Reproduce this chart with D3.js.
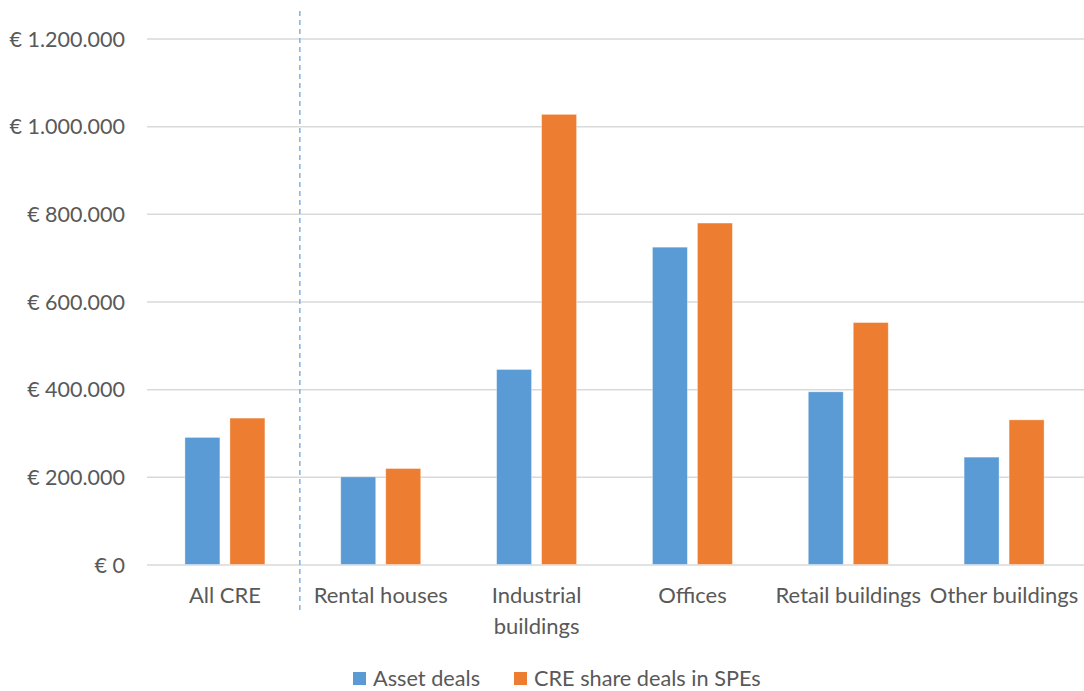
<!DOCTYPE html>
<html>
<head>
<meta charset="utf-8">
<script src="https://cdn.jsdelivr.net/npm/d3@7"></script>
<style>
  html, body { margin: 0; padding: 0; background: #fff; }
  svg { display: block; font-family: Lato, "Open Sans", sans-serif; }
</style>
</head>
<body>
<svg id="chart" width="1084" height="691"></svg>
<script>
// Average transaction value per deal type and building category
const categories = [["All CRE"], ["Rental houses"], ["Industrial", "buildings"], ["Offices"], ["Retail buildings"], ["Other buildings"]];
const seriesNames = ["Asset deals", "CRE share deals in SPEs"];
const assetDeals = [290000, 200000, 445000, 724000, 394000, 245000];
const shareDeals = [334000, 219000, 1027000, 779000, 552000, 330000];
const yTicks = [0, 200000, 400000, 600000, 800000, 1000000, 1200000];
const colors = ["#5B9BD5", "#ED7D31"];

const svg = d3.select("#chart");
const plotLeft = 147, plotRight = 1082, gridRight = 1084, plotTop = 38.5, plotBottom = 564.5;

const y = d3.scaleLinear().domain([0, 1200000]).range([plotBottom, plotTop]);
const x0 = d3.scaleBand().domain(d3.range(categories.length)).range([plotLeft, plotRight]).padding(0);
const bw = x0.bandwidth();
const x1 = d3.scaleBand().domain(seriesNames).range([bw / 2 - 40, bw / 2 + 40]).paddingInner(10 / 45).paddingOuter(0);

const fmt = v => "€ " + d3.format(",")(v).replace(/,/g, ".");

// gridlines and y tick labels
const yAxis = d3.axisLeft(y).tickValues(yTicks).tickSize(-(gridRight - plotLeft)).tickFormat(fmt).tickPadding(22);
const gy = svg.append("g").attr("transform", `translate(${plotLeft},0)`).call(yAxis);
gy.attr("font-family", null);
gy.select(".domain").remove();
gy.selectAll(".tick line").attr("stroke", "#D9D9D9").attr("stroke-width", 1.5);
gy.selectAll(".tick text").attr("fill", "#595959").attr("font-size", 21.5).attr("dy", "0.35em");

// separator between the total and the individual categories
svg.append("line")
  .attr("x1", x0(1) - 3).attr("x2", x0(1) - 3)
  .attr("y1", 11).attr("y2", 613)
  .attr("stroke", "#7FB2E0").attr("stroke-width", 1.5)
  .attr("stroke-dasharray", "5,4");

// bars
const data = categories.map((c, i) => [assetDeals[i], shareDeals[i]]);
const groups = svg.append("g").selectAll("g").data(data).join("g")
  .attr("transform", (d, i) => `translate(${x0(i)},0)`);
groups.selectAll("rect").data(d => d.map((v, j) => ({ v, s: seriesNames[j], j }))).join("rect")
  .attr("x", d => x1(d.s))
  .attr("width", x1.bandwidth())
  .attr("y", d => y(d.v))
  .attr("height", d => y(0) - y(d.v))
  .attr("fill", d => colors[d.j])
  .attr("stroke", "#fff").attr("stroke-opacity", 0.5).attr("stroke-width", 0.75);

// category labels
const xl = svg.append("g").selectAll("text").data(categories).join("text")
  .attr("x", (d, i) => x0(i) + bw / 2)
  .attr("y", 603)
  .attr("text-anchor", "middle")
  .attr("fill", "#595959").attr("font-size", 22);
xl.selectAll("tspan").data(d => d).join("tspan")
  .attr("x", function () { return this.parentNode.getAttribute("x"); })
  .attr("dy", (d, k) => k === 0 ? 0 : 31)
  .text(d => d);

// legend
const legendItems = [{ x: 353, name: seriesNames[0], c: colors[0] }, { x: 514, name: seriesNames[1], c: colors[1] }];
const lg = svg.append("g").selectAll("g").data(legendItems).join("g")
  .attr("transform", d => `translate(${d.x},672)`);
lg.append("rect").attr("width", 13).attr("height", 13).attr("fill", d => d.c);
lg.append("text").attr("x", 20).attr("y", 13.5).attr("fill", "#595959").attr("font-size", 21.7).text(d => d.name);
</script>
</body>
</html>
